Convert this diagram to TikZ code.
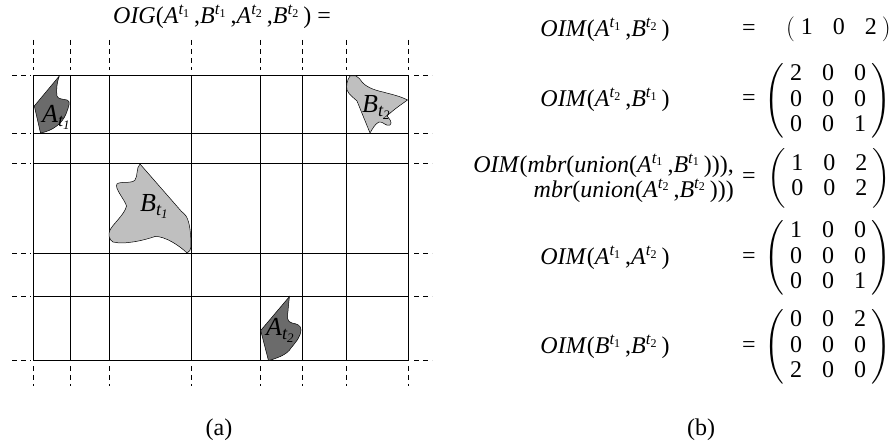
\documentclass[tikz,border=0pt]{standalone}
\usepackage{amsmath}
\usepackage{fontspec}
\setmainfont{Liberation Serif}
\setmathrm{Liberation Serif}
\newcommand{\vi}[1]{\text{\itshape #1}}
\newcommand{\V}[2]{\textit{#1}$^{\text{\itshape t}_{\text{#2}}}$\,}
\newcommand{\tsub}[1]{_{\vi{t}_{\vi{#1}}}}
\newcommand{\mx}[1]{$\left(\vcenter{\hbox{\begin{tabular}{@{\hspace{6pt}}c@{\hspace{20pt}}c@{\hspace{20pt}}c@{\hspace{5pt}}}#1\end{tabular}}}\right)$}
\begin{document}
\begin{tikzpicture}[x=1pt,y=-1pt,
  gridline/.style={line width=0.9pt},
  ext/.style={line width=0.9pt, dash pattern=on 5pt off 4pt},
  darkreg/.style={draw=black, line width=0.5pt, fill=black!58},
  lightreg/.style={draw=black, line width=0.5pt, fill=black!25},
  lbl/.style={font=\fontsize{26}{26}\selectfont, inner sep=0pt, anchor=base west},
  eqtxt/.style={font=\fontsize{24}{25}\selectfont, inner sep=0pt},
  mat/.style={font=\fontsize{24}{25.5}\selectfont, inner sep=0pt, anchor=east},
  captxt/.style={font=\fontsize{24}{29}\selectfont, inner sep=0pt}]
\useasboundingbox (0,0) rectangle (894,443);
% grid
\foreach \x in {33.3,70.7,109,191.7,260.7,302,346,408} {
  \draw[gridline] (\x,75.3) -- (\x,360.7);
  \draw[ext] (\x,40) -- (\x,70);
  \draw[ext] (\x,366) -- (\x,386);
}
\foreach \y in {75.3,133.7,163.7,253.3,296.7,360.7} {
  \draw[gridline] (33.3,\y) -- (408,\y);
  \draw[ext] (12,\y) -- (31,\y);
  \draw[ext] (414,\y) -- (432,\y);
}
% regions
\draw[darkreg] (59.3,76) -- (34.3,106) -- (40.5,133) .. controls (52,131) and (62,124) .. (66,114)
  .. controls (69,106) and (71,101) .. (67,100) .. controls (62,99) and (58,99) .. (57,96)
  .. controls (56,90) and (57,82) .. (59.3,76) -- cycle;
\draw[lightreg] (350,76) .. controls (347,80) and (346,86) .. (347,90) .. controls (349,95) and (354,98) .. (357,101)
  -- (370,133) .. controls (373,128) and (375,124) .. (379,122) .. controls (383,121) and (386,127) .. (390,125)
  .. controls (393,123) and (389,118) .. (387,116) .. controls (393,110) and (402,104) .. (407.5,100)
  .. controls (400,96) and (390,94) .. (383,92) .. controls (373,90) and (365,86) .. (362,82)
  .. controls (360,79) and (358,77) .. (356,76) -- cycle;
\draw[lightreg] (140,164) .. controls (136,168) and (138,176) .. (135,180) .. controls (132,184) and (120,181) .. (117,184)
  .. controls (114,188) and (125,200) .. (126.5,206) .. controls (125,214) and (113,224) .. (110,230)
  .. controls (108,234) and (109,240) .. (113,242) .. controls (125,245) and (145,240) .. (155,236.5)
  .. controls (165,236) and (180,246) .. (187,253) .. controls (189,252) and (191,250) .. (191,247)
  .. controls (191,235) and (190,222) .. (186,216) .. controls (184,213) and (183,213) .. (181.5,211.5) -- cycle;
\draw[darkreg] (289.5,296.5) -- (260.7,330.5) -- (268.5,360.7) .. controls (277,358) and (287,355) .. (291,348)
  .. controls (296,342) and (301,336) .. (301,330) .. controls (301,325) and (297,324) .. (292,323)
  .. controls (287,322) and (287,317) .. (288,311) .. controls (288.5,305) and (289,300) .. (289.5,296.5) -- cycle;
% region labels
\node[lbl] (la1) at (42,123) {$\vi{A}\tsub{1}$};
\node[lbl] (lb2) at (362,113) {$\vi{B}\tsub{2}$};
\node[lbl] (lb1) at (140,212) {$\vi{B}\tsub{1}$};
\node[lbl] (la2) at (266,336) {$\vi{A}\tsub{2}$};
% title
\node[eqtxt] (title) at (222,17) {\textit{OIG}(\V{A}{1},\V{B}{1},\V{A}{2},\V{B}{2}) =};
% right side
\node[eqtxt] (l1) at (605,30) {\textit{OIM}(\V{A}{1},\V{B}{2})};
\node[eqtxt] (e1) at (749,30) {=};
\node[mat] (m1) at (891,29) {\mx{1&0&2}};
\node[eqtxt] (l2) at (605,100) {\textit{OIM}(\V{A}{2},\V{B}{1})};
\node[eqtxt] (e2) at (749,100) {=};
\node[mat] (m2) at (891,101) {\mx{2&0&0\\0&0&0\\0&0&1}};
\node[eqtxt, anchor=east, align=right] (l3) at (734,178) {\textit{OIM}(\textit{mbr}(\textit{union}(\V{A}{1},\V{B}{1}))),\\\textit{mbr}(\textit{union}(\V{A}{2},\V{B}{2})))};
\node[eqtxt] (e3) at (749,178) {=};
\node[mat] (m3) at (891,178) {\mx{1&0&2\\0&0&2}};
\node[eqtxt] (l4) at (605,258) {\textit{OIM}(\V{A}{1},\V{A}{2})};
\node[eqtxt] (e4) at (749,258) {=};
\node[mat] (m4) at (891,258) {\mx{1&0&0\\0&0&0\\0&0&1}};
\node[eqtxt] (l5) at (605,347) {\textit{OIM}(\V{B}{1},\V{B}{2})};
\node[eqtxt] (e5) at (749,347) {=};
\node[mat] (m5) at (891,347) {\mx{0&0&2\\0&0&0\\2&0&0}};
% captions
\node[captxt] (ca) at (219,430) {(a)};
\node[captxt] (cb) at (701,430) {(b)};
\end{tikzpicture}
\end{document}
